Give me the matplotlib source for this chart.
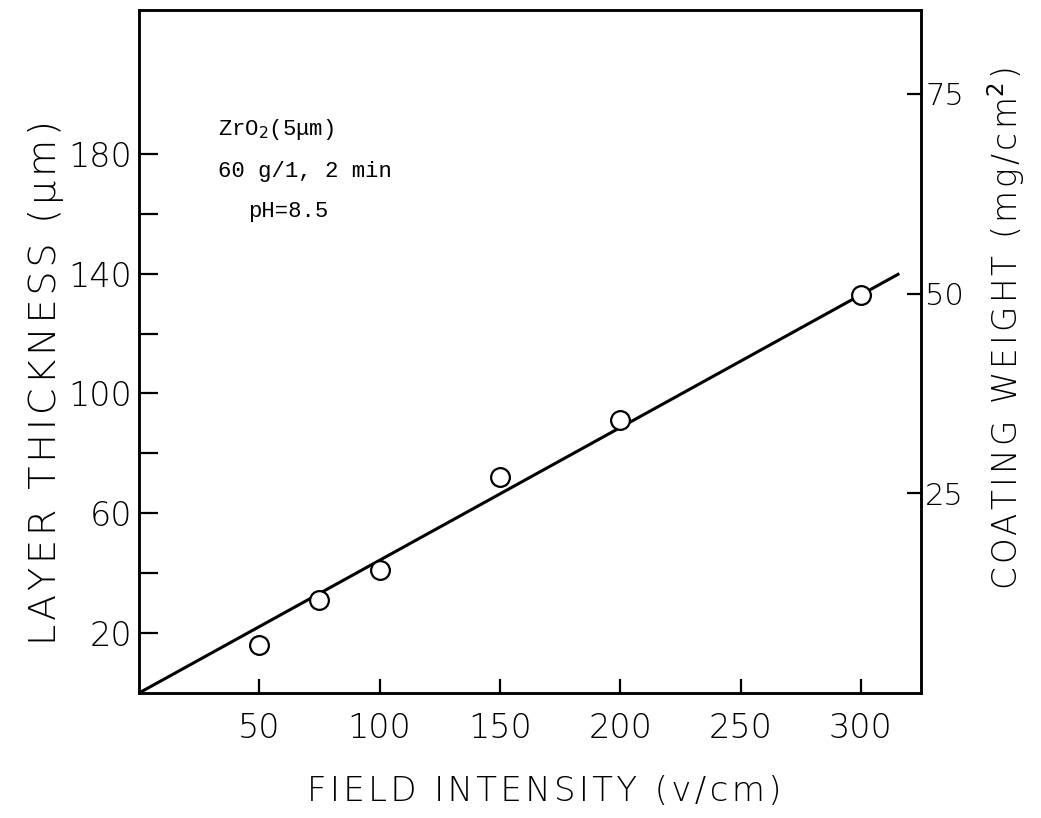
import matplotlib
matplotlib.use("Agg")
import matplotlib.pyplot as plt
from matplotlib.ticker import FixedLocator

# Measured layer thickness versus applied field
field = [50, 75, 100, 150, 200, 300]          # v/cm
thickness = [16, 31, 41, 72, 91, 133]         # um

# Fitted straight line through the origin
fit_field = [0, 316]
fit_thickness = [0, 140]

x_ticks = [50, 100, 150, 200, 250, 300]
y_major = [20, 60, 100, 140, 180]
y_minor = [40, 80, 120, 160]
w_ticks = [25, 50, 75]

# thickness (um) -> coating weight (mg/cm2) scale factor
weight_per_um = 0.375

HAIR = "\u200a"


def spaced(text):
    """Open up the letter spacing of a label with hair spaces."""
    return HAIR.join(text)


fig = plt.figure(figsize=(10.41, 8.18), dpi=100)
ax = fig.add_axes([0.1335, 0.1528, 0.7512, 0.835])

ax.plot(fit_field, fit_thickness, color="black", lw=2.2, solid_capstyle="butt", zorder=2)
ax.plot(field, thickness, "o", ms=13.5, mfc="white", mec="black", mew=1.6, zorder=3)

ax.set_xlim(0, 325)
ax.set_ylim(0, 228)

for s in ax.spines.values():
    s.set_linewidth(1.8)

tick_font = dict(family="DejaVu Sans", size=24, weight="light")

ax.xaxis.set_major_locator(FixedLocator(x_ticks))
ax.set_xticklabels([str(v) for v in x_ticks], **tick_font)
ax.yaxis.set_major_locator(FixedLocator(y_major))
ax.yaxis.set_minor_locator(FixedLocator(y_minor))
ax.set_yticklabels([str(v) for v in y_major], **tick_font)

ax.tick_params(axis="x", direction="in", length=10, width=1.6, pad=14, top=False)
ax.tick_params(axis="y", which="both", direction="in", length=14, width=1.6, pad=5, right=False)

# Secondary scale: coating weight
ax2 = ax.twinx()
ax2.set_ylim(0, 228 * weight_per_um)
ax2.yaxis.set_major_locator(FixedLocator(w_ticks))
ax2.set_yticklabels([str(v) for v in w_ticks], family="DejaVu Sans", size=22, weight="light")
ax2.tick_params(axis="y", direction="in", length=10, width=1.6, pad=3)
for s in ax2.spines.values():
    s.set_linewidth(1.8)

label_font = dict(family="DejaVu Sans", weight="light")
fig.text(0.523, 0.032, spaced("FIELD INTENSITY (v/cm)"), ha="center", va="center",
         size=24.5, **label_font)
fig.text(0.044, 0.532, spaced("LAYER THICKNESS (μm)"), ha="center", va="center",
         rotation=90, size=27.5, **label_font)
fig.text(0.966, 0.598, spaced("COATING WEIGHT (mg/cm") + "$^2$" + HAIR + ")",
         ha="center", va="center", rotation=90, size=23.5, **label_font)

# Deposition conditions
mono = dict(family="Liberation Mono", size=16, transform=ax.transAxes, va="baseline")
ax.text(0.101, (693 - 135) / 683, "ZrO$_2$(5μm)", **mono)
ax.text(0.101, (693 - 177) / 683, "60 g/1, 2 min", **mono)
ax.text(0.139, (693 - 217) / 683, "pH=8.5", **mono)

fig.savefig("out.png", dpi=100)
